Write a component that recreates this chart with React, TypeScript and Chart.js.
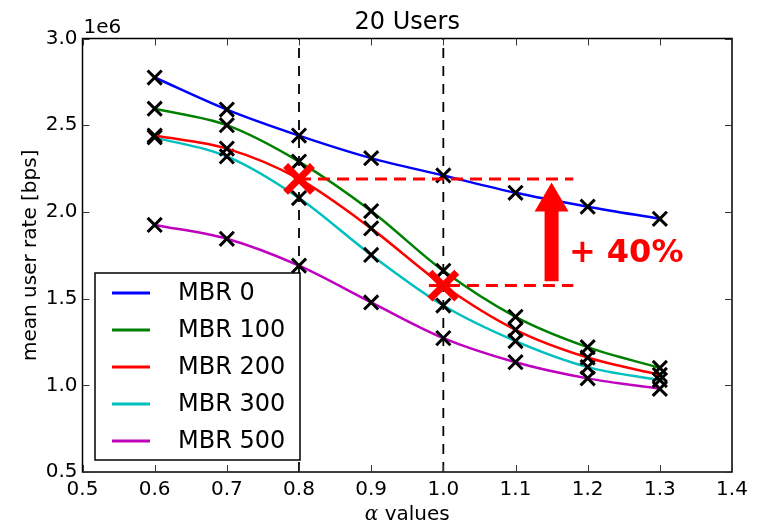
import { useEffect, useRef } from 'react';
import { Chart, registerables } from 'chart.js';

Chart.register(...registerables);

// ---- data ----
const alphaValues = [0.6, 0.7, 0.8, 0.9, 1.0, 1.1, 1.2, 1.3];
const mbr0 = [2.775, 2.59, 2.44, 2.31, 2.21, 2.11, 2.03, 1.96];
const mbr100 = [2.595, 2.5, 2.29, 2.005, 1.66, 1.395, 1.22, 1.1];
const mbr200 = [2.44, 2.365, 2.19, 1.905, 1.575, 1.32, 1.16, 1.06];
const mbr300 = [2.43, 2.32, 2.08, 1.752, 1.46, 1.255, 1.105, 1.03];
const mbr500 = [1.925, 1.845, 1.69, 1.478, 1.272, 1.133, 1.04, 0.98];

const seriesLabels = ['MBR 0', 'MBR 100', 'MBR 200', 'MBR 300', 'MBR 500'];
const seriesColors = ['#0000ff', '#008000', '#ff0000', '#00bfbf', '#bf00bf'];
const seriesValues = [mbr0, mbr100, mbr200, mbr300, mbr500];

const highlightX = [0.8, 1.0];
const highlightY = [2.19, 1.575];
const refHighX = [0.8, 1.18];
const refLowX = [0.98, 1.18];
const verticalGuideX = [0.8, 1.0];

const arrowX = 1.15;
const arrowFromY = 1.6;
const arrowToY = 2.17;
const gainLabel = '+ 40%';
const gainLabelX = 1.174;
const gainLabelY = 1.71;

const xTicksMin = 0.5;
const xTicksMax = 1.4;
const yTicksMin = 0.5;
const yTicksMax = 3.0;

const FONT = '"DejaVu Sans", sans-serif';

const decorPlugin = {
  id: 'decor',
  afterDatasetsDraw(chart: any) {
    const { ctx, chartArea, scales } = chart;
    const xs = scales.x;
    const ys = scales.y;
    ctx.save();
    // arrow
    const ax = xs.getPixelForValue(arrowX);
    const yb = ys.getPixelForValue(arrowFromY);
    const yt = ys.getPixelForValue(arrowToY);
    const headH = 29;
    const shaftW = 7;
    const headW = 17;
    ctx.fillStyle = '#ff0000';
    ctx.beginPath();
    ctx.moveTo(ax - shaftW, yb);
    ctx.lineTo(ax - shaftW, yt + headH);
    ctx.lineTo(ax - headW, yt + headH);
    ctx.lineTo(ax, yt);
    ctx.lineTo(ax + headW, yt + headH);
    ctx.lineTo(ax + shaftW, yt + headH);
    ctx.lineTo(ax + shaftW, yb);
    ctx.closePath();
    ctx.fill();
    // label
    ctx.font = 'bold 32px ' + FONT;
    ctx.textAlign = 'left';
    ctx.textBaseline = 'alphabetic';
    ctx.fillText(gainLabel, xs.getPixelForValue(gainLabelX), ys.getPixelForValue(gainLabelY));

    // frame
    ctx.strokeStyle = '#000';
    ctx.lineWidth = 1.5;
    ctx.strokeRect(chartArea.left, chartArea.top, chartArea.right - chartArea.left, chartArea.bottom - chartArea.top);

    // inward ticks
    ctx.lineWidth = 1;
    ctx.strokeStyle = '#333';
    const tl = 7;
    ctx.beginPath();
    for (const t of xs.ticks) {
      const px = Math.round(xs.getPixelForValue(t.value)) + 0.5;
      ctx.moveTo(px, chartArea.bottom);
      ctx.lineTo(px, chartArea.bottom - tl);
      ctx.moveTo(px, chartArea.top);
      ctx.lineTo(px, chartArea.top + tl);
    }
    for (const t of ys.ticks) {
      const py = Math.round(ys.getPixelForValue(t.value)) + 0.5;
      ctx.moveTo(chartArea.left, py);
      ctx.lineTo(chartArea.left + tl, py);
      ctx.moveTo(chartArea.right, py);
      ctx.lineTo(chartArea.right - tl, py);
    }
    ctx.stroke();
    ctx.restore();
  },
  afterDraw(chart: any) {
    const { ctx, chartArea } = chart;
    ctx.save();
    ctx.fillStyle = '#000';
    // title
    ctx.font = '24px ' + FONT;
    ctx.textAlign = 'center';
    ctx.textBaseline = 'alphabetic';
    ctx.fillText('20 Users', (chartArea.left + chartArea.right) / 2, 29);
    // offset text
    ctx.font = '20px ' + FONT;
    ctx.textAlign = 'left';
    ctx.fillText('1e6', chartArea.left + 1, 33);
    // x title
    const cx = (chartArea.left + chartArea.right) / 2;
    ctx.font = 'italic 20px "DejaVu Serif", serif';
    const a = '\u03b1';
    const aw = ctx.measureText(a).width;
    ctx.font = '20px ' + FONT;
    const rest = ' values';
    const rw = ctx.measureText(rest).width;
    const startX = cx - (aw + rw) / 2;
    ctx.font = 'italic 20px "DejaVu Serif", serif';
    ctx.fillText(a, startX, 520);
    ctx.font = '20px ' + FONT;
    ctx.fillText(rest, startX + aw, 520);
    // y title
    ctx.save();
    ctx.translate(36, (chartArea.top + chartArea.bottom) / 2);
    ctx.rotate(-Math.PI / 2);
    ctx.textAlign = 'center';
    ctx.fillText('mean user rate [bps]', 0, 0);
    ctx.restore();

    // legend
    const lx = 95, ly = 273, lw = 205, lh = 187;
    ctx.fillStyle = '#fff';
    ctx.fillRect(lx, ly, lw, lh);
    ctx.strokeStyle = '#000';
    ctx.lineWidth = 1.5;
    ctx.strokeRect(lx, ly, lw, lh);
    ctx.font = '24px ' + FONT;
    ctx.textBaseline = 'middle';
    ctx.textAlign = 'left';
    seriesLabels.forEach((lab, i) => {
      const y = 293 + i * 37;
      ctx.strokeStyle = seriesColors[i];
      ctx.lineWidth = 3;
      ctx.beginPath();
      ctx.moveTo(112, y);
      ctx.lineTo(150, y);
      ctx.stroke();
      ctx.fillStyle = '#000';
      ctx.fillText(lab, 178, y + 1);
    });
    ctx.restore();
  },
};

export default function App() {
  const ref = useRef<HTMLCanvasElement>(null);
  useEffect(() => {
    document.body.style.margin = '0';
    const canvas = ref.current!;
    const seriesDatasets = seriesValues.map((vals, i) => ({
      label: seriesLabels[i],
      data: alphaValues.map((x, j) => ({ x, y: vals[j] })),
      borderColor: seriesColors[i],
      backgroundColor: seriesColors[i],
      borderWidth: 2.5,
      cubicInterpolationMode: 'monotone' as const,
      pointStyle: 'crossRot' as const,
      pointRadius: 10,
      pointBorderColor: '#000',
      pointBackgroundColor: '#000',
      pointBorderWidth: 3,
      showLine: true,
    }));
    const chart = new Chart(canvas, {
      type: 'scatter',
      data: {
        datasets: [
          {
            label: 'highlight',
            data: highlightX.map((x, j) => ({ x, y: highlightY[j] })),
            pointStyle: 'crossRot',
            pointRadius: 19,
            pointBorderColor: '#ff0000',
            pointBackgroundColor: '#ff0000',
            pointBorderWidth: 7,
            showLine: false,
          },
          {
            label: 'refHigh',
            data: refHighX.map((x) => ({ x, y: highlightY[0] })),
            borderColor: '#ff0000',
            borderWidth: 3,
            borderDash: [12, 7],
            pointRadius: 0,
            showLine: true,
          },
          {
            label: 'refLow',
            data: refLowX.map((x) => ({ x, y: highlightY[1] })),
            borderColor: '#ff0000',
            borderWidth: 3,
            borderDash: [12, 7],
            pointRadius: 0,
            showLine: true,
          },
          ...seriesDatasets,
          ...verticalGuideX.map((gx) => ({
            label: 'guide',
            data: [
              { x: gx, y: yTicksMin },
              { x: gx, y: yTicksMax },
            ],
            borderColor: '#000',
            borderWidth: 1.8,
            borderDash: [10, 8],
            pointRadius: 0,
            showLine: true,
          })),
        ] as any,
      },
      options: {
        animation: false,
        responsive: false,
        devicePixelRatio: 1,
        layout: { padding: { top: 38.5, right: 23, left: 0, bottom: 0 } },
        plugins: { legend: { display: false }, tooltip: { enabled: false }, title: { display: false } },
        scales: {
          x: {
            type: 'linear',
            min: xTicksMin,
            max: xTicksMax,
            grid: { display: false, drawTicks: false },
            border: { display: false },
            ticks: {
              stepSize: 0.1,
              padding: 6,
              color: '#000',
              font: { family: FONT, size: 20 },
              callback: (v: any) => Number(v).toFixed(1),
            },
            afterFit: (s: any) => {
              s.height = 53;
            },
          },
          y: {
            type: 'linear',
            min: yTicksMin,
            max: yTicksMax,
            grid: { display: false, drawTicks: false },
            border: { display: false },
            ticks: {
              stepSize: 0.5,
              padding: 5,
              color: '#000',
              font: { family: FONT, size: 20 },
              callback: (v: any) => Number(v).toFixed(1),
            },
            afterFit: (s: any) => {
              s.width = 82.5;
            },
          },
        },
      },
      plugins: [decorPlugin],
    });
    return () => chart.destroy();
  }, []);
  return (
    <div style={{ width: 758, height: 525 }}>
      <canvas ref={ref} width={758} height={525} style={{ display: 'block' }} />
    </div>
  );
}
